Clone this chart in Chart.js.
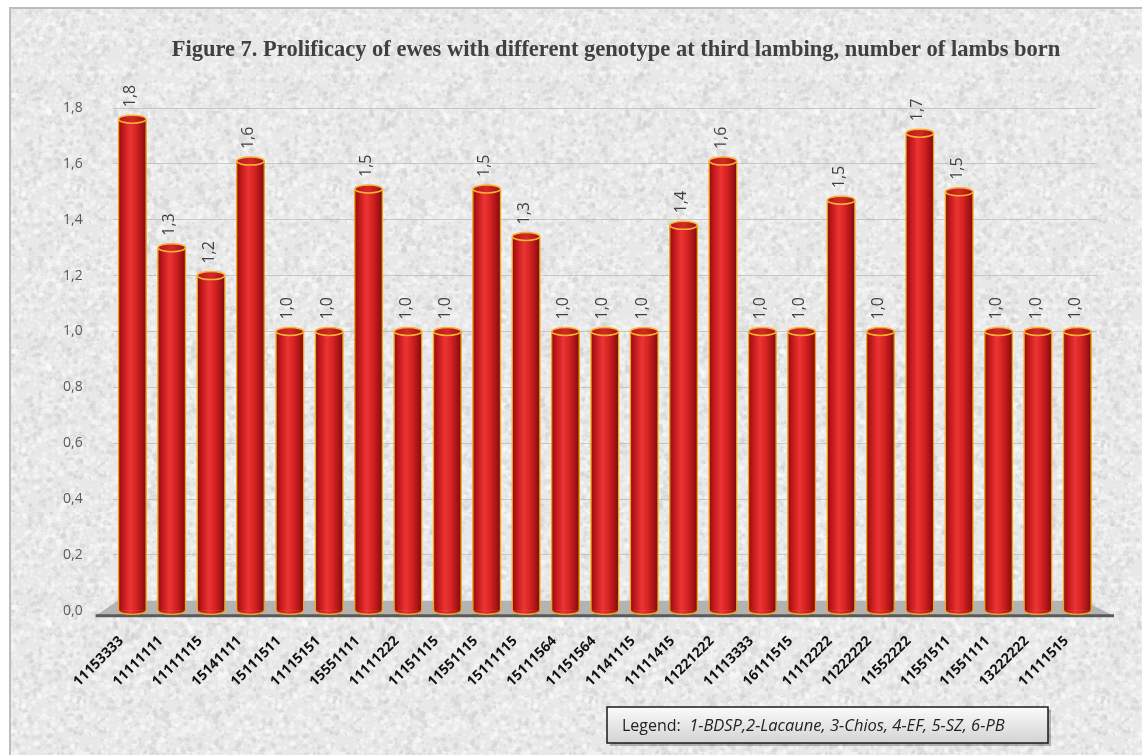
<!DOCTYPE html>
<html>
<head>
<meta charset="utf-8">
<title>Figure 7</title>
<script src="https://cdn.jsdelivr.net/npm/chart.js@4.4.1/dist/chart.umd.min.js"></script>
<style>
    html, body { margin: 0; padding: 0; background: #fff; }
    #wrap { width: 1142px; height: 755px; position: relative; }
</style>
</head>
<body>
<div id="wrap"><canvas id="Chart1"></canvas></div>
<script>
// genotypes on the x axis
var genotypes = ['11153333', '11111111', '11111115', '15141111', '15111511', '11115151', '15551111',
    '11111222', '11151115', '11551115', '15111115', '15111564', '11151564', '11141115', '11111415',
    '11221222', '11113333', '16111515', '11112222', '11222222', '11552222', '11551511', '11551111',
    '13222222', '11111515'];
// number of lambs born at third lambing
var lambsBorn = [1.76, 1.30, 1.20, 1.61, 1.0, 1.0, 1.51, 1.0, 1.0, 1.51, 1.34, 1.0, 1.0, 1.0, 1.38,
    1.61, 1.0, 1.0, 1.47, 1.0, 1.71, 1.50, 1.0, 1.0, 1.0];
var yTicks = [0, 0.2, 0.4, 0.6, 0.8, 1.0, 1.2, 1.4, 1.6, 1.8];
var chartTitle = 'Figure 7. Prolificacy of ewes with different genotype at third lambing, number of lambs born';
var legendLabel = 'Legend:';
var legendText = '1-BDSP,2-Lacaune, 3-Chios, 4-EF, 5-SZ, 6-PB';

var BAR_PCT = 0.7;
var GOLD = '#f2a51a';

function fmt(v) {
    return v.toFixed(1).replace('.', ',');
}

// grainy stone background tile
function makeTexture() {
    var c = document.createElement('canvas');
    c.width = 256; c.height = 256;
    var g = c.getContext('2d');
    g.fillStyle = '#e8e8e8';
    g.fillRect(0, 0, 256, 256);
    var s = 12345;
    function next() { s = (s * 16807) % 2147483647; return s / 2147483647; }
    for (var i = 0; i < 4000; i++) {
        var x = next() * 256, y = next() * 256, r = 0.8 + next() * 2.2;
        var v = next() < 0.6 ? 252 : 205;
        g.fillStyle = 'rgba(' + v + ',' + v + ',' + v + ',0.4)';
        g.beginPath();
        g.arc(x, y, r, 0, Math.PI * 2);
        g.fill();
    }
    var soft = document.createElement('canvas');
    soft.width = 256; soft.height = 256;
    var sg = soft.getContext('2d');
    sg.filter = 'blur(0.6px)';
    sg.drawImage(c, 0, 0);
    return soft;
}
var texture = makeTexture();

function cylGradient(ctx, cx, half) {
    var g = ctx.createLinearGradient(cx - half, 0, cx + half, 0);
    g.addColorStop(0, '#8e0e10');
    g.addColorStop(0.18, '#c41a1c');
    g.addColorStop(0.42, '#ec3434');
    g.addColorStop(0.62, '#d92424');
    g.addColorStop(0.85, '#a81416');
    g.addColorStop(1, '#7c0a0c');
    return g;
}

// background, frame, title and the grey floor under the bars
var backdrop = {
    id: 'backdrop',
    beforeDraw: function (chart) {
        var ctx = chart.ctx, w = chart.width, h = chart.height;
        ctx.save();
        ctx.fillStyle = '#fff';
        ctx.fillRect(0, 0, w, h);
        ctx.fillStyle = ctx.createPattern(texture, 'repeat');
        ctx.fillRect(10, 8, w - 10, h - 8);
        ctx.strokeStyle = '#bcbcbc';
        ctx.lineWidth = 2;
        ctx.beginPath();
        ctx.moveTo(10, h);
        ctx.lineTo(10, 8);
        ctx.lineTo(w, 8);
        ctx.stroke();
        ctx.fillStyle = '#404040';
        ctx.font = 'bold 22.5px "Liberation Serif"';
        ctx.textAlign = 'center';
        ctx.textBaseline = 'middle';
        ctx.fillText(chartTitle, 616, 50);
        ctx.restore();
    },
    beforeDatasetsDraw: function (chart) {
        var ctx = chart.ctx, a = chart.chartArea;
        var y0 = chart.scales.y.getPixelForValue(0);
        ctx.save();
        ctx.fillStyle = '#b3b3b3';
        ctx.beginPath();
        ctx.moveTo(a.left + 5, y0 - 10);
        ctx.lineTo(a.right - 14, y0 - 10);
        ctx.lineTo(a.right + 17, y0 + 5);
        ctx.lineTo(a.left - 17, y0 + 5);
        ctx.closePath();
        ctx.fill();
        ctx.strokeStyle = '#5a5a5a';
        ctx.lineWidth = 3;
        ctx.beginPath();
        ctx.moveTo(a.left - 17, y0 + 5);
        ctx.lineTo(a.right + 17, y0 + 5);
        ctx.stroke();
        ctx.restore();
    }
};

// cylinder shading, caps and the value written above each bar
var caps = {
    id: 'caps',
    afterDatasetsDraw: function (chart) {
        var ctx = chart.ctx;
        var meta = chart.getDatasetMeta(0);
        meta.data.forEach(function (bar, i) {
            var x = bar.x, top = bar.y, base = bar.base, rx = bar.width / 2, ry = 4;
            ctx.save();
            // body with round shading
            ctx.fillStyle = cylGradient(ctx, x, rx);
            ctx.fillRect(x - rx, top, rx * 2, base - top);
            ctx.beginPath();
            ctx.ellipse(x, base, rx, ry, 0, 0, Math.PI);
            ctx.fill();
            ctx.strokeStyle = GOLD;
            ctx.lineWidth = 1.3;
            ctx.beginPath();
            ctx.moveTo(x - rx, top);
            ctx.lineTo(x - rx, base);
            ctx.ellipse(x, base, rx, ry, 0, Math.PI, 0, true);
            ctx.lineTo(x + rx, top);
            ctx.stroke();
            // top face
            ctx.beginPath();
            ctx.ellipse(x, top, rx, ry, 0, 0, Math.PI * 2);
            var g = ctx.createLinearGradient(x - rx, 0, x + rx, 0);
            g.addColorStop(0, '#b8161a');
            g.addColorStop(0.5, '#d42a26');
            g.addColorStop(1, '#9e1214');
            ctx.fillStyle = g;
            ctx.fill();
            ctx.strokeStyle = '#f7b531';
            ctx.lineWidth = 1.5;
            ctx.stroke();
            // value label
            ctx.translate(x - 2, top - ry - 8);
            ctx.rotate(-Math.PI / 2);
            ctx.font = '16px "Open Sans"';
            ctx.fillStyle = '#404040';
            ctx.textAlign = 'left';
            ctx.textBaseline = 'middle';
            ctx.fillText(fmt(lambsBorn[i]), 0, 0);
            ctx.restore();
        });
    }
};

// boxed note with the breed codes
var codeBox = {
    id: 'codeBox',
    afterDraw: function (chart) {
        var ctx = chart.ctx;
        var bx = 607, by = 707, bw = 441, bh = 36;
        ctx.save();
        ctx.fillStyle = 'rgba(0,0,0,0.25)';
        ctx.fillRect(bx + 3, by + 3, bw, bh);
        var g = ctx.createLinearGradient(0, by, 0, by + bh);
        g.addColorStop(0, '#fbfbfb');
        g.addColorStop(1, '#d3d3d3');
        ctx.fillStyle = g;
        ctx.fillRect(bx, by, bw, bh);
        ctx.strokeStyle = '#1a1a1a';
        ctx.lineWidth = 1.5;
        ctx.strokeRect(bx, by, bw, bh);
        ctx.fillStyle = '#222';
        ctx.textBaseline = 'middle';
        ctx.font = '16px "Open Sans"';
        ctx.fillText(legendLabel, bx + 15, by + bh / 2 + 1);
        var lw = ctx.measureText(legendLabel + '  ').width;
        ctx.font = 'italic 16.5px "Open Sans"';
        ctx.fillText(legendText, bx + 15 + lw, by + bh / 2 + 1);
        ctx.restore();
    }
};

var ctx1 = document.getElementById('Chart1');
var chart1 = new Chart(ctx1, {
    type: 'bar',
    data: {
        labels: genotypes,
        datasets: [{
            label: 'Lambs born',
            data: lambsBorn,
            backgroundColor: '#c81e1e',
            borderWidth: 0,
            barPercentage: BAR_PCT,
            categoryPercentage: 1.0
        }]
    },
    options: {
        responsive: true,
        maintainAspectRatio: false,
        animation: false,
        events: [],
        layout: {
            padding: { top: 108, left: 33, right: 45, bottom: 43 }
        },
        plugins: {
            legend: { display: false },
            tooltip: { enabled: false },
            title: { display: false }
        },
        scales: {
            x: {
                grid: { display: false, drawTicks: false },
                border: { display: false },
                afterFit: function (scale) {
                    // let the slanted first label hang past the plot edge
                    scale.paddingLeft = 0;
                    scale.paddingRight = 0;
                },
                ticks: {
                    color: '#111',
                    font: { family: '"Open Sans"', weight: 'bold', size: 14 },
                    minRotation: 45,
                    maxRotation: 45,
                    autoSkip: false,
                    labelOffset: -11,
                    padding: 22
                }
            },
            y: {
                min: 0,
                max: 1.8,
                afterBuildTicks: function (axis) {
                    axis.ticks = yTicks.map(function (v) { return { value: v }; });
                },
                grid: { color: 'rgba(185,185,185,0.75)', drawTicks: false },
                border: { display: false },
                ticks: {
                    color: '#595959',
                    font: { family: '"Open Sans"', size: 14 },
                    padding: 30,
                    callback: function (v) { return fmt(v); }
                }
            }
        }
    },
    plugins: [backdrop, caps, codeBox]
});
</script>
</body>
</html>
